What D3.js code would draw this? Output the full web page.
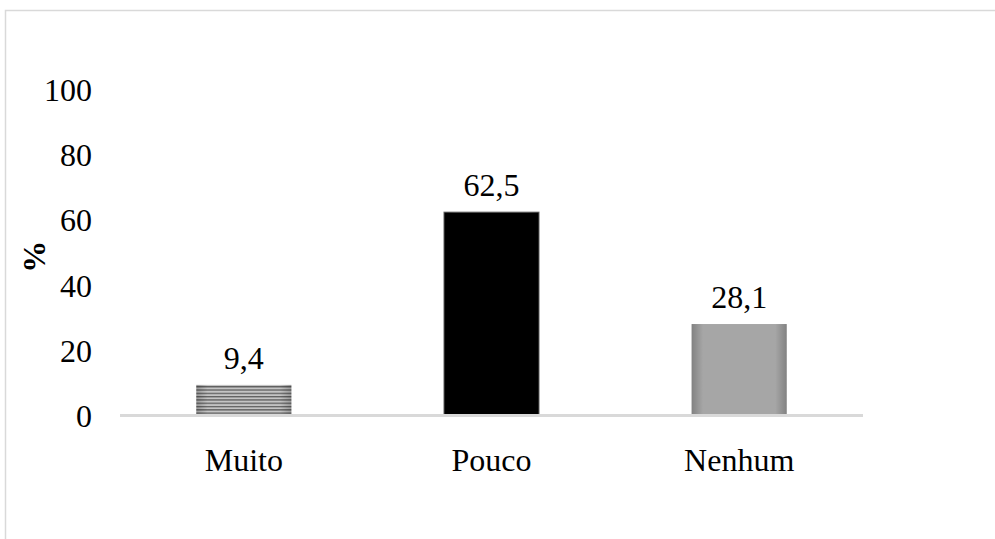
<!DOCTYPE html>
<html>
<head>
<meta charset="utf-8">
<script src="https://cdn.jsdelivr.net/npm/d3@7"></script>
<style>
  body { margin: 0; background: #fff; }
  svg { display: block; }
  text { font-family: "Times New Roman", "Liberation Serif", serif; fill: #000; }
</style>
</head>
<body>
<svg id="chart" width="995" height="539"></svg>
<script>
const categories = ["Muito", "Pouco", "Nenhum"];
const values = [9.4, 62.5, 28.1];
const valueLabels = ["9,4", "62,5", "28,1"];
const yTicks = [0, 20, 40, 60, 80, 100];
const fills = ["url(#stripes)", "#000", "#a6a6a6"];

const svg = d3.select("#chart");
const width = 995;
const height = 539;
const margin = { top: 90, right: 132, bottom: 123.5, left: 120 };
const fontSize = "32px";

// outer frame
svg.append("rect")
    .attr("x", 5.5)
    .attr("y", 10.5)
    .attr("width", 1000)
    .attr("height", 600)
    .attr("fill", "none")
    .attr("stroke", "#d9d9d9")
    .attr("stroke-width", 1.5);

const defs = svg.append("defs");

// horizontal stripe pattern for first bar
const pat = defs.append("pattern")
    .attr("id", "stripes")
    .attr("patternUnits", "userSpaceOnUse")
    .attr("width", 10)
    .attr("height", 3.3);
pat.append("rect").attr("width", 10).attr("height", 3.3).attr("fill", "#c4c4c4");
pat.append("rect").attr("y", 0).attr("width", 10).attr("height", 1.3).attr("fill", "#5e5e5e");

// edge shading so bars look slightly bevelled
const shadeX = defs.append("linearGradient").attr("id", "shadeX");
shadeX.append("stop").attr("offset", "0%").attr("stop-color", "#000").attr("stop-opacity", 0.22);
shadeX.append("stop").attr("offset", "12%").attr("stop-color", "#000").attr("stop-opacity", 0);
shadeX.append("stop").attr("offset", "88%").attr("stop-color", "#000").attr("stop-opacity", 0);
shadeX.append("stop").attr("offset", "100%").attr("stop-color", "#000").attr("stop-opacity", 0.22);

const x = d3.scaleBand()
    .domain(categories)
    .range([margin.left, width - margin.right])
    .paddingInner(0.616)
    .paddingOuter(0.308);

const y = d3.scaleLinear()
    .domain([0, 100])
    .range([height - margin.bottom, margin.top]);

// y tick labels (no axis line in the original)
svg.append("g")
    .selectAll("text")
    .data(yTicks)
    .join("text")
    .attr("x", 92)
    .attr("y", d => y(d))
    .attr("dy", "0.35em")
    .attr("text-anchor", "end")
    .style("font-size", fontSize)
    .text(d => d);

// y axis title
svg.append("text")
    .attr("transform", `translate(45,${(y(0) + y(100)) / 2 + 4}) rotate(-90)`)
    .attr("text-anchor", "middle")
    .style("font-size", fontSize)
    .style("font-weight", "bold")
    .text("%");

// bars
const bars = svg.append("g");
bars.selectAll("rect.bar")
    .data(values)
    .join("rect")
    .attr("class", "bar")
    .attr("x", (d, i) => x(categories[i]))
    .attr("y", d => y(d))
    .attr("width", x.bandwidth())
    .attr("height", d => y(0) - y(d))
    .attr("fill", (d, i) => fills[i])
    .attr("stroke", (d, i) => i === 1 ? "#7f7f7f" : "none")
    .attr("stroke-width", 1);

bars.selectAll("rect.shade")
    .data(values)
    .join("rect")
    .attr("class", "shade")
    .attr("x", (d, i) => x(categories[i]))
    .attr("y", d => y(d))
    .attr("width", x.bandwidth())
    .attr("height", d => y(0) - y(d))
    .attr("fill", "url(#shadeX)");

// value labels
svg.append("g")
    .selectAll("text")
    .data(values)
    .join("text")
    .attr("x", (d, i) => x(categories[i]) + x.bandwidth() / 2)
    .attr("y", d => y(d) - 16)
    .attr("text-anchor", "middle")
    .style("font-size", fontSize)
    .text((d, i) => valueLabels[i]);

// baseline
svg.append("line")
    .attr("x1", margin.left)
    .attr("x2", width - margin.right)
    .attr("y1", y(0))
    .attr("y2", y(0))
    .attr("stroke", "#d9d9d9")
    .attr("stroke-width", 3);

// category labels
svg.append("g")
    .selectAll("text")
    .data(categories)
    .join("text")
    .attr("x", d => x(d) + x.bandwidth() / 2)
    .attr("y", y(0) + 55)
    .attr("text-anchor", "middle")
    .style("font-size", fontSize)
    .text(d => d);
</script>
</body>
</html>
